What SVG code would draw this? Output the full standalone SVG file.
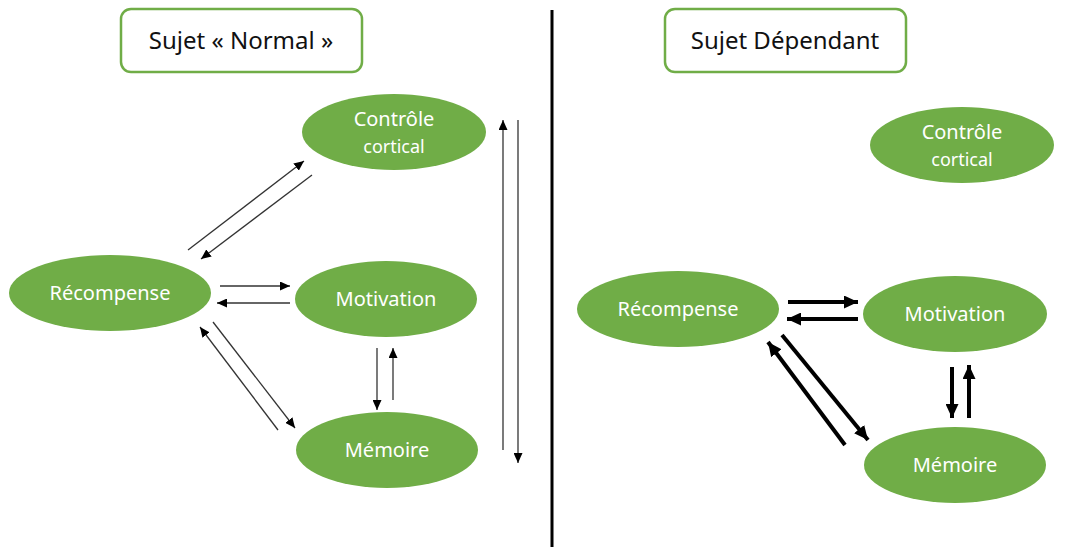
<svg xmlns="http://www.w3.org/2000/svg" width="1069" height="547" viewBox="0 0 1069 547">
<style>
.title{fill:#fff;stroke:#70AD47;stroke-width:2.5}
.tt{font-family:"Noto Sans","Open Sans",sans-serif;font-size:24px;fill:#111;text-anchor:middle}
.node{fill:#70AD47}
.nt{font-family:"Noto Sans","Open Sans",sans-serif;font-size:20px;fill:#fff;text-anchor:middle}
.ns{font-size:18px}
.thin{stroke:#333;stroke-width:1.3;fill:none;marker-end:url(#ah)}
.thick{stroke:#000;stroke-width:4;fill:none;marker-end:url(#ahb)}
</style>
<defs>
<marker id="ah" markerUnits="userSpaceOnUse" markerWidth="10" markerHeight="9" refX="10" refY="4.5" orient="auto" viewBox="0 0 10 9"><path d="M0,0 L10,4.5 L0,9 z" fill="#000"/></marker>
<marker id="ahb" markerUnits="userSpaceOnUse" markerWidth="14" markerHeight="13" refX="14" refY="6.5" orient="auto" viewBox="0 0 14 13"><path d="M0,0 L14,6.5 L0,13 z" fill="#000"/></marker>
</defs>
<line x1="552" y1="10" x2="552" y2="547" stroke="#000" stroke-width="3"/>
<g id="title-normal"><rect class="title" x="121" y="9" width="241" height="63" rx="10"/><text class="tt" x="241" y="49">Sujet « Normal »</text></g>
<g id="title-dep"><rect class="title" x="665" y="9" width="241" height="63" rx="10"/><text class="tt" x="785" y="49">Sujet Dépendant</text></g>
<g id="n-controle"><ellipse class="node" cx="394" cy="132" rx="92" ry="38"/><text class="nt" x="394" y="126">Contrôle</text><text class="nt ns" x="394" y="153">cortical</text></g>
<g id="n-recompense"><ellipse class="node" cx="110" cy="293" rx="101" ry="38"/><text class="nt" x="110" y="300">Récompense</text></g>
<g id="n-motivation"><ellipse class="node" cx="386" cy="299" rx="91" ry="38"/><text class="nt" x="386" y="306">Motivation</text></g>
<g id="n-memoire"><ellipse class="node" cx="387" cy="450" rx="91" ry="38"/><text class="nt" x="387" y="457">Mémoire</text></g>
<g id="d-controle"><ellipse class="node" cx="962" cy="145" rx="92" ry="38"/><text class="nt" x="962" y="139">Contrôle</text><text class="nt ns" x="962" y="166">cortical</text></g>
<g id="d-recompense"><ellipse class="node" cx="678" cy="309" rx="101" ry="38"/><text class="nt" x="678" y="316">Récompense</text></g>
<g id="d-motivation"><ellipse class="node" cx="955" cy="314" rx="92" ry="38"/><text class="nt" x="955" y="321">Motivation</text></g>
<g id="d-memoire"><ellipse class="node" cx="955" cy="465" rx="91" ry="38"/><text class="nt" x="955" y="472">Mémoire</text></g>
<g id="connectors">
<line class="thin" x1="188" y1="250" x2="304" y2="161"/>
<line class="thin" x1="312" y1="175" x2="201" y2="259"/>
<line class="thin" x1="220" y1="286" x2="290" y2="286"/>
<line class="thin" x1="290" y1="303" x2="217" y2="303"/>
<line class="thin" x1="278" y1="430" x2="200" y2="327"/>
<line class="thin" x1="213" y1="322" x2="295" y2="428"/>
<line class="thin" x1="377" y1="348" x2="377" y2="410"/>
<line class="thin" x1="393" y1="400" x2="393" y2="348"/>
<line class="thin" x1="503" y1="450" x2="503" y2="120"/>
<line class="thin" x1="518" y1="120" x2="518" y2="463"/>
<line class="thick" x1="788" y1="302" x2="858" y2="302"/>
<line class="thick" x1="858" y1="319" x2="787" y2="319"/>
<line class="thick" x1="845" y1="445" x2="768" y2="342"/>
<line class="thick" x1="782" y1="335" x2="868" y2="440"/>
<line class="thick" x1="952" y1="367" x2="952" y2="418"/>
<line class="thick" x1="969" y1="418" x2="969" y2="365"/>
</g>
</svg>
